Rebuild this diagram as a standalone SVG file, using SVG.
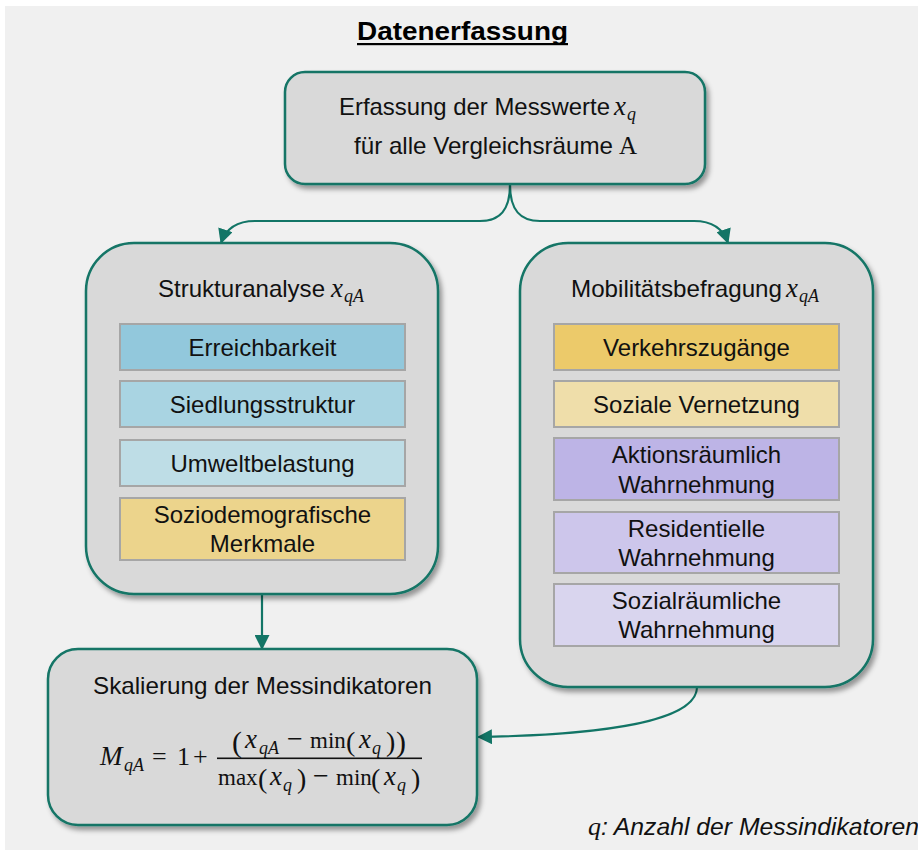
<svg xmlns="http://www.w3.org/2000/svg" width="918" height="850" viewBox="0 0 918 850">
  <defs>
    <filter id="shadow" x="-10%" y="-10%" width="125%" height="125%">
      <feDropShadow dx="3" dy="4" stdDeviation="2.5" flood-color="#000" flood-opacity="0.38"/>
    </filter>
    <marker id="arrow" viewBox="0 0 14 14" refX="13" refY="7" markerWidth="15" markerHeight="15" markerUnits="userSpaceOnUse" orient="auto">
      <path d="M0,0 L14,7 L0,14 Z" fill="#127566"/>
    </marker>
    <style>
      .panel { fill: #d9d9d9; stroke: #127566; stroke-width: 2.5; filter: url(#shadow); }
      .item { stroke: #a6a6a6; stroke-width: 2; }
      .t { font-family: "Liberation Sans", Arial, sans-serif; font-size: 24px; fill: #111; }
      .c { text-anchor: middle; }
      .m { font-family: "Liberation Serif", "Times New Roman", serif; font-style: italic; fill: #111; }
      .r { font-family: "Liberation Serif", "Times New Roman", serif; fill: #111; }
      .conn { fill: none; stroke: #127566; stroke-width: 2.2; }
    </style>
  </defs>

  <!-- canvas -->
  <rect x="0" y="0" width="918" height="850" fill="#ffffff"/>
  <rect x="5" y="6" width="913" height="844" fill="#f0f0f0"/>

  <!-- heading -->
  <g id="title">
    <text x="462.5" y="40" class="c" font-family="'Liberation Sans', Arial, sans-serif" font-size="25" font-weight="bold" fill="#000" textLength="211" lengthAdjust="spacingAndGlyphs">Datenerfassung</text>
    <rect x="357" y="43" width="211" height="2.2" fill="#000"/>
  </g>

  <!-- connectors -->
  <g id="connectors">
    <path class="conn" d="M510,185 C510,210 500,221 480,221 L255,221 C238,221 226,228 221,243" marker-end="url(#arrow)"/>
    <path class="conn" d="M510,185 C510,210 520,221 540,221 L694,221 C711,221 723,228 728,243" marker-end="url(#arrow)"/>
    <path class="conn" d="M262,594 L262,649" marker-end="url(#arrow)"/>
    <path class="conn" d="M697,687 C697,722 600,735 478,737" marker-end="url(#arrow)"/>
  </g>

  <!-- data collection -->
  <g id="node-erfassung">
    <rect class="panel" x="285" y="72" width="420" height="112" rx="20"/>
    <text class="t" x="339" y="115" textLength="271" lengthAdjust="spacingAndGlyphs">Erfassung der Messwerte</text>
    <text class="m" x="614" y="115" font-size="27">x</text>
    <text class="m" x="627" y="120" font-size="18">q</text>
    <text class="t" x="354" y="154" textLength="259" lengthAdjust="spacingAndGlyphs">für alle Vergleichsräume</text>
    <text class="r" x="619" y="154" font-size="25">A</text>
  </g>

  <!-- structural analysis -->
  <g id="node-struktur">
    <rect class="panel" x="86" y="243" width="352" height="351" rx="48"/>
    <text class="t" x="158" y="297" textLength="167" lengthAdjust="spacingAndGlyphs">Strukturanalyse</text>
    <text class="m" x="331" y="297" font-size="27">x</text>
    <text class="m" x="344" y="302" font-size="18">qA</text>
  </g>
  <g id="item-erreichbarkeit">
    <rect class="item" x="120" y="324" width="285" height="46" fill="#92c8dc"/>
    <text class="t c" x="262.5" y="356">Erreichbarkeit</text>
  </g>
  <g id="item-siedlung">
    <rect class="item" x="120" y="381" width="285" height="46" fill="#a9d4e2"/>
    <text class="t c" x="262.5" y="413">Siedlungsstruktur</text>
  </g>
  <g id="item-umwelt">
    <rect class="item" x="120" y="440" width="285" height="46" fill="#bedde6"/>
    <text class="t c" x="262.5" y="472">Umweltbelastung</text>
  </g>
  <g id="item-sozio">
    <rect class="item" x="120" y="498" width="285" height="62" fill="#ecd48c"/>
    <text class="t c" x="262.5" y="523">Soziodemografische</text>
    <text class="t c" x="262.5" y="552">Merkmale</text>
  </g>

  <!-- mobility survey -->
  <g id="node-mobilitaet">
    <rect class="panel" x="520" y="243" width="353" height="444" rx="48"/>
    <text class="t" x="571" y="297" textLength="211" lengthAdjust="spacingAndGlyphs">Mobilitätsbefragung</text>
    <text class="m" x="786" y="297" font-size="27">x</text>
    <text class="m" x="799" y="302" font-size="18">qA</text>
  </g>
  <g id="item-verkehr">
    <rect class="item" x="554" y="324" width="285" height="46" fill="#ecca6a"/>
    <text class="t c" x="696.5" y="356">Verkehrszugänge</text>
  </g>
  <g id="item-vernetzung">
    <rect class="item" x="554" y="381" width="285" height="46" fill="#efdeaa"/>
    <text class="t c" x="696.5" y="413">Soziale Vernetzung</text>
  </g>
  <g id="item-aktion">
    <rect class="item" x="554" y="438" width="285" height="62" fill="#bdb4e6"/>
    <text class="t c" x="696.5" y="463">Aktionsräumlich</text>
    <text class="t c" x="696.5" y="493">Wahrnehmung</text>
  </g>
  <g id="item-residentiell">
    <rect class="item" x="554" y="512" width="285" height="61" fill="#cdc6eb"/>
    <text class="t c" x="696.5" y="537">Residentielle</text>
    <text class="t c" x="696.5" y="566">Wahrnehmung</text>
  </g>
  <g id="item-sozialraum">
    <rect class="item" x="554" y="584" width="285" height="62" fill="#d9d5ee"/>
    <text class="t c" x="696.5" y="609">Sozialräumliche</text>
    <text class="t c" x="696.5" y="638">Wahrnehmung</text>
  </g>

  <!-- scaling -->
  <g id="node-skalierung">
    <rect class="panel" x="48" y="649" width="429" height="176" rx="30"/>
    <text class="t" x="93" y="694" textLength="339" lengthAdjust="spacingAndGlyphs">Skalierung der Messindikatoren</text>
    <!-- M_qA = 1 + -->
    <text class="m" x="100" y="765" font-size="27">M</text>
    <text class="m" x="124" y="771" font-size="18">qA</text>
    <text class="r" x="152" y="765" font-size="26">=</text>
    <text class="r" x="177" y="765" font-size="26">1</text>
    <text class="r" x="193" y="765" font-size="26">+</text>
    <!-- numerator -->
    <text class="r" x="232" y="752" font-size="30">(</text>
    <text class="m" x="245" y="748" font-size="27">x</text>
    <text class="m" x="259" y="754" font-size="18">qA</text>
    <text class="r" x="287" y="748" font-size="28">−</text>
    <text class="r" x="310" y="748" font-size="23">min</text>
    <text class="r" x="346" y="751" font-size="28">(</text>
    <text class="m" x="359" y="748" font-size="27">x</text>
    <text class="m" x="372" y="754" font-size="18">q</text>
    <text class="r" x="386" y="751" font-size="28">)</text>
    <text class="r" x="396" y="752" font-size="30">)</text>
    <rect x="217" y="757.5" width="205" height="1.6" fill="#111"/>
    <!-- denominator -->
    <text class="r" x="218" y="785" font-size="23">max</text>
    <text class="r" x="258" y="788" font-size="28">(</text>
    <text class="m" x="270" y="785" font-size="27">x</text>
    <text class="m" x="283" y="791" font-size="18">q</text>
    <text class="r" x="297" y="788" font-size="28">)</text>
    <text class="r" x="313" y="785" font-size="28">−</text>
    <text class="r" x="336" y="785" font-size="23">min</text>
    <text class="r" x="371" y="788" font-size="28">(</text>
    <text class="m" x="384" y="785" font-size="27">x</text>
    <text class="m" x="397" y="791" font-size="18">q</text>
    <text class="r" x="411" y="788" font-size="28">)</text>
  </g>

  <!-- legend -->
  <g id="legend">
    <text class="m" x="588" y="835" font-size="26">q</text>
    <text x="601" y="835" font-family="'Liberation Sans', Arial, sans-serif" font-size="24" font-style="italic" fill="#111" textLength="318" lengthAdjust="spacingAndGlyphs">: Anzahl der Messindikatoren</text>
  </g>
</svg>
